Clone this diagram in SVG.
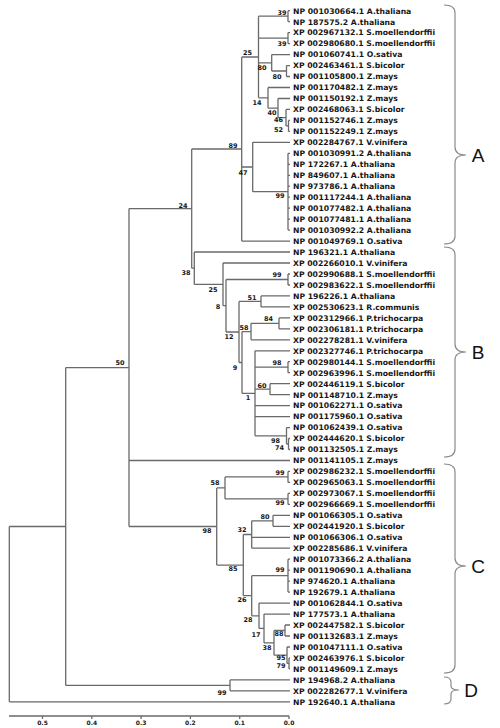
<svg xmlns="http://www.w3.org/2000/svg" width="500" height="728" viewBox="0 0 500 728">
<style>
.br{fill:none;stroke:#6a6a6a;stroke-width:1.3}
.lf{font-family:"DejaVu Sans",sans-serif;font-weight:bold;font-size:7.7px;fill:#161616}
.bs{font-family:"DejaVu Sans",sans-serif;font-weight:bold;font-size:6.5px;fill:#161616;text-anchor:middle}
.ax{font-family:"DejaVu Sans",sans-serif;font-weight:bold;font-size:6px;fill:#161616;text-anchor:middle}
.brace{fill:none;stroke:#8a8a8a;stroke-width:1.2}
.cl{font-family:"Liberation Sans",Arial,sans-serif;font-size:19px;fill:#111;text-anchor:middle}
</style>
<rect width="500" height="728" fill="#fff"/>
<g id="connectors" class="br">
<path d="M9.3,526.5V701.8M9.3,526.5H65.7M9.3,701.8H290"/>
<path d="M65.7,367.6V685.4M65.7,367.6H129M65.7,685.4H230"/>
<path d="M230,679.9V690.8M230,679.9H290M230,690.8H290"/>
<path d="M129,208.6V526.5M129,208.6H191.7M129,460.5H290M129,526.5H216.7"/>
<path d="M191.7,149V268.2M191.7,149H241.7M191.7,268.2H194.3"/>
<path d="M241.7,57V241.1M241.7,57H258.5M241.7,167H252.7M241.7,241.1H290"/>
<path d="M258.5,16.2V97.8M258.5,16.2H288M258.5,38.1H288M258.5,62.8H271.7M258.5,97.8H268"/>
<path d="M288,10.7V21.7M288,10.7H290M288,21.7H290"/>
<path d="M288,32.6V43.6M288,32.6H290M288,43.6H290"/>
<path d="M271.7,54.6V71M271.7,54.6H290M271.7,71H286.5"/>
<path d="M286.5,65.6V76.5M286.5,65.6H290M286.5,76.5H290"/>
<path d="M268,87.5V108.1M268,87.5H290M268,108.1H278"/>
<path d="M278,98.5V117.6M278,98.5H290M278,117.6H286"/>
<path d="M286,109.4V125.9M286,109.4H290M286,125.9H288.5"/>
<path d="M288.5,120.4V131.4M288.5,120.4H290M288.5,131.4H290"/>
<path d="M252.7,142.3V191.7M252.7,142.3H290M252.7,191.7H288"/>
<path d="M288,153.3V230.1M288,153.3H290M288,164.3H290M288,175.3H290M288,186.2H290M288,197.2H290M288,208.2H290M288,219.1H290M288,230.1H290"/>
<path d="M194.3,252V284.4M194.3,252H290M194.3,284.4H223"/>
<path d="M223,263V305.7M223,263H290M223,305.7H226"/>
<path d="M226,279.5V332M226,279.5H288M226,332H239"/>
<path d="M288,274V285M288,274H290M288,285H290"/>
<path d="M239,301.4V362.5M239,301.4H261M239,362.5H242"/>
<path d="M261,295.9V306.9M261,295.9H290M261,306.9H290"/>
<path d="M242,331.6V393.3M242,331.6H251M242,393.3H255"/>
<path d="M251,323.3V339.8M251,323.3H279M251,339.8H290"/>
<path d="M279,317.9V328.8M279,317.9H290M279,328.8H290"/>
<path d="M255,350.8V435.8M255,350.8H290M255,367.2H288M255,389.2H270M255,405.6H290M255,416.6H290M255,435.8H286.5"/>
<path d="M288,361.7V372.7M288,361.7H290M288,372.7H290"/>
<path d="M270,383.7V394.7M270,383.7H290M270,394.7H290"/>
<path d="M286.5,427.6V444M286.5,427.6H290M286.5,444H288.5"/>
<path d="M288.5,438.5V449.5M288.5,438.5H290M288.5,449.5H290"/>
<path d="M216.7,487.9V565.1M216.7,487.9H225M216.7,565.1H243.3"/>
<path d="M225,476.9V498.9M225,476.9H288M225,498.9H288"/>
<path d="M288,471.4V482.4M288,471.4H290M288,482.4H290"/>
<path d="M288,493.4V504.4M288,493.4H290M288,504.4H290"/>
<path d="M243.3,534.5V595.7M243.3,534.5H251.7M243.3,595.7H251.7"/>
<path d="M251.7,520.8V548.2M251.7,520.8H273M251.7,537.3H290M251.7,548.2H290"/>
<path d="M273,515.3V526.3M273,515.3H290M273,526.3H290"/>
<path d="M251.7,575.7V615.8M251.7,575.7H288M251.7,615.8H259"/>
<path d="M288,559.2V592.1M288,559.2H290M288,570.2H290M288,581.1H290M288,592.1H290"/>
<path d="M259,603.1V628.4M259,603.1H290M259,628.4H264"/>
<path d="M264,614.1V642.8M264,614.1H290M264,642.8H274"/>
<path d="M274,630.5V655.2M274,630.5H285M274,655.2H287"/>
<path d="M285,625V636M285,625H290M285,636H290"/>
<path d="M287,647V663.4M287,647H290M287,663.4H289"/>
<path d="M289,657.9V668.9M289,657.9H290M289,668.9H290"/>
</g>
<g id="scale">
<path class="br" d="M9,716H289M42.5,716V719M91.8,716V719M141.1,716V719M190.4,716V719M239.7,716V719M289,716V719"/>
<text class="ax" x="42.5" y="725">0.5</text>
<text class="ax" x="91.8" y="725">0.4</text>
<text class="ax" x="141.1" y="725">0.3</text>
<text class="ax" x="190.4" y="725">0.2</text>
<text class="ax" x="239.7" y="725">0.1</text>
<text class="ax" x="289" y="725">0.0</text>
</g>
<g id="internal-nodes">
<g id="n-a1"><text class="bs" x="282" y="15.3">39</text></g>
<g id="n-a2"><text class="bs" x="282" y="45.6">39</text></g>
<g id="n-a25"><text class="bs" x="247.5" y="55.3">25</text></g>
<g id="n-a80"><text class="bs" x="262" y="70.3">80</text></g>
<g id="n-a80b"><text class="bs" x="277" y="79.3">80</text></g>
<g id="n-a14"><text class="bs" x="257" y="105.3">14</text></g>
<g id="n-a40"><text class="bs" x="272" y="115.3">40</text></g>
<g id="n-a46"><text class="bs" x="278.5" y="122.3">46</text></g>
<g id="n-a52"><text class="bs" x="278.5" y="132.3">52</text></g>
<g id="n-a89"><text class="bs" x="233" y="148.3">89</text></g>
<g id="n-a47"><text class="bs" x="243" y="175.3">47</text></g>
<g id="n-a99"><text class="bs" x="280" y="198.3">99</text></g>
<g id="n-24"><text class="bs" x="183" y="208.3">24</text></g>
<g id="n-b38"><text class="bs" x="186" y="275.3">38</text></g>
<g id="n-b99"><text class="bs" x="277" y="277.3">99</text></g>
<g id="n-b25"><text class="bs" x="213" y="292.3">25</text></g>
<g id="n-b51"><text class="bs" x="252" y="300.3">51</text></g>
<g id="n-b8"><text class="bs" x="218" y="309.3">8</text></g>
<g id="n-b84"><text class="bs" x="268.5" y="321.3">84</text></g>
<g id="n-b58"><text class="bs" x="244" y="330.3">58</text></g>
<g id="n-b12"><text class="bs" x="229" y="339.3">12</text></g>
<g id="n-b98a"><text class="bs" x="277" y="365.3">98</text></g>
<g id="n-b9"><text class="bs" x="235" y="370.3">9</text></g>
<g id="n-b60"><text class="bs" x="262" y="388.3">60</text></g>
<g id="n-b1"><text class="bs" x="248" y="400.3">1</text></g>
<g id="n-b98b"><text class="bs" x="275.5" y="443.3">98</text></g>
<g id="n-b74"><text class="bs" x="279.5" y="450.3">74</text></g>
<g id="n-50"><text class="bs" x="120" y="365.3">50</text></g>
<g id="n-c99a"><text class="bs" x="280" y="475.3">99</text></g>
<g id="n-c58"><text class="bs" x="215" y="485.3">58</text></g>
<g id="n-c99b"><text class="bs" x="280" y="505.3">99</text></g>
<g id="n-c80"><text class="bs" x="265" y="519.3">80</text></g>
<g id="n-c32"><text class="bs" x="242" y="532.3">32</text></g>
<g id="n-c98"><text class="bs" x="207" y="533.3">98</text></g>
<g id="n-c85"><text class="bs" x="233" y="571.3">85</text></g>
<g id="n-c99c"><text class="bs" x="280" y="572.3">99</text></g>
<g id="n-c26"><text class="bs" x="242" y="602.3">26</text></g>
<g id="n-c28"><text class="bs" x="248" y="622.3">28</text></g>
<g id="n-c88"><text class="bs" x="279" y="636.3">88</text></g>
<g id="n-c17"><text class="bs" x="256" y="637.3">17</text></g>
<g id="n-c38"><text class="bs" x="267" y="650.3">38</text></g>
<g id="n-c95"><text class="bs" x="281" y="660.3">95</text></g>
<g id="n-c79"><text class="bs" x="281" y="668.3">79</text></g>
<g id="n-d99"><text class="bs" x="222" y="695.3">99</text></g>
</g>
<g id="leaves">
<g id="leaf-01"><text class="lf" x="293" y="13.5">NP 001030664.1 A.thaliana</text></g>
<g id="leaf-02"><text class="lf" x="293" y="24.5">NP 187575.2 A.thaliana</text></g>
<g id="leaf-03"><text class="lf" x="293" y="35.4">XP 002967132.1 S.moellendorffii</text></g>
<g id="leaf-04"><text class="lf" x="293" y="46.4">XP 002980680.1 S.moellendorffii</text></g>
<g id="leaf-05"><text class="lf" x="293" y="57.4">NP 001060741.1 O.sativa</text></g>
<g id="leaf-06"><text class="lf" x="293" y="68.4">XP 002463461.1 S.bicolor</text></g>
<g id="leaf-07"><text class="lf" x="293" y="79.3">NP 001105800.1 Z.mays</text></g>
<g id="leaf-08"><text class="lf" x="293" y="90.3">NP 001170482.1 Z.mays</text></g>
<g id="leaf-09"><text class="lf" x="293" y="101.3">NP 001150192.1 Z.mays</text></g>
<g id="leaf-10"><text class="lf" x="293" y="112.2">XP 002468063.1 S.bicolor</text></g>
<g id="leaf-11"><text class="lf" x="293" y="123.2">NP 001152746.1 Z.mays</text></g>
<g id="leaf-12"><text class="lf" x="293" y="134.2">NP 001152249.1 Z.mays</text></g>
<g id="leaf-13"><text class="lf" x="293" y="145.1">XP 002284767.1 V.vinifera</text></g>
<g id="leaf-14"><text class="lf" x="293" y="156.1">NP 001030991.2 A.thaliana</text></g>
<g id="leaf-15"><text class="lf" x="293" y="167.1">NP 172267.1 A.thaliana</text></g>
<g id="leaf-16"><text class="lf" x="293" y="178.1">NP 849607.1 A.thaliana</text></g>
<g id="leaf-17"><text class="lf" x="293" y="189.0">NP 973786.1 A.thaliana</text></g>
<g id="leaf-18"><text class="lf" x="293" y="200.0">NP 001117244.1 A.thaliana</text></g>
<g id="leaf-19"><text class="lf" x="293" y="211.0">NP 001077482.1 A.thaliana</text></g>
<g id="leaf-20"><text class="lf" x="293" y="221.9">NP 001077481.1 A.thaliana</text></g>
<g id="leaf-21"><text class="lf" x="293" y="232.9">NP 001030992.2 A.thaliana</text></g>
<g id="leaf-22"><text class="lf" x="293" y="243.9">NP 001049769.1 O.sativa</text></g>
<g id="leaf-23"><text class="lf" x="293" y="254.8">NP 196321.1 A.thaliana</text></g>
<g id="leaf-24"><text class="lf" x="293" y="265.8">XP 002266010.1 V.vinifera</text></g>
<g id="leaf-25"><text class="lf" x="293" y="276.8">XP 002990688.1 S.moellendorffii</text></g>
<g id="leaf-26"><text class="lf" x="293" y="287.8">XP 002983622.1 S.moellendorffii</text></g>
<g id="leaf-27"><text class="lf" x="293" y="298.7">NP 196226.1 A.thaliana</text></g>
<g id="leaf-28"><text class="lf" x="293" y="309.7">XP 002530623.1 R.communis</text></g>
<g id="leaf-29"><text class="lf" x="293" y="320.7">XP 002312966.1 P.trichocarpa</text></g>
<g id="leaf-30"><text class="lf" x="293" y="331.6">XP 002306181.1 P.trichocarpa</text></g>
<g id="leaf-31"><text class="lf" x="293" y="342.6">XP 002278281.1 V.vinifera</text></g>
<g id="leaf-32"><text class="lf" x="293" y="353.6">XP 002327746.1 P.trichocarpa</text></g>
<g id="leaf-33"><text class="lf" x="293" y="364.5">XP 002980144.1 S.moellendorffii</text></g>
<g id="leaf-34"><text class="lf" x="293" y="375.5">XP 002963996.1 S.moellendorffii</text></g>
<g id="leaf-35"><text class="lf" x="293" y="386.5">XP 002446119.1 S.bicolor</text></g>
<g id="leaf-36"><text class="lf" x="293" y="397.5">NP 001148710.1 Z.mays</text></g>
<g id="leaf-37"><text class="lf" x="293" y="408.4">NP 001062271.1 O.sativa</text></g>
<g id="leaf-38"><text class="lf" x="293" y="419.4">NP 001175960.1 O.sativa</text></g>
<g id="leaf-39"><text class="lf" x="293" y="430.4">NP 001062439.1 O.sativa</text></g>
<g id="leaf-40"><text class="lf" x="293" y="441.3">XP 002444620.1 S.bicolor</text></g>
<g id="leaf-41"><text class="lf" x="293" y="452.3">NP 001132505.1 Z.mays</text></g>
<g id="leaf-42"><text class="lf" x="293" y="463.3">NP 001141105.1 Z.mays</text></g>
<g id="leaf-43"><text class="lf" x="293" y="474.2">XP 002986232.1 S.moellendorffii</text></g>
<g id="leaf-44"><text class="lf" x="293" y="485.2">XP 002965063.1 S.moellendorffii</text></g>
<g id="leaf-45"><text class="lf" x="293" y="496.2">XP 002973067.1 S.moellendorffii</text></g>
<g id="leaf-46"><text class="lf" x="293" y="507.2">XP 002966669.1 S.moellendorffii</text></g>
<g id="leaf-47"><text class="lf" x="293" y="518.1">NP 001066305.1 O.sativa</text></g>
<g id="leaf-48"><text class="lf" x="293" y="529.1">XP 002441920.1 S.bicolor</text></g>
<g id="leaf-49"><text class="lf" x="293" y="540.1">NP 001066306.1 O.sativa</text></g>
<g id="leaf-50"><text class="lf" x="293" y="551.0">XP 002285686.1 V.vinifera</text></g>
<g id="leaf-51"><text class="lf" x="293" y="562.0">NP 001073366.2 A.thaliana</text></g>
<g id="leaf-52"><text class="lf" x="293" y="573.0">NP 001190690.1 A.thaliana</text></g>
<g id="leaf-53"><text class="lf" x="293" y="583.9">NP 974620.1 A.thaliana</text></g>
<g id="leaf-54"><text class="lf" x="293" y="594.9">NP 192679.1 A.thaliana</text></g>
<g id="leaf-55"><text class="lf" x="293" y="605.9">NP 001062844.1 O.sativa</text></g>
<g id="leaf-56"><text class="lf" x="293" y="616.9">NP 177573.1 A.thaliana</text></g>
<g id="leaf-57"><text class="lf" x="293" y="627.8">XP 002447582.1 S.bicolor</text></g>
<g id="leaf-58"><text class="lf" x="293" y="638.8">NP 001132683.1 Z.mays</text></g>
<g id="leaf-59"><text class="lf" x="293" y="649.8">NP 001047111.1 O.sativa</text></g>
<g id="leaf-60"><text class="lf" x="293" y="660.7">XP 002463976.1 S.bicolor</text></g>
<g id="leaf-61"><text class="lf" x="293" y="671.7">NP 001149609.1 Z.mays</text></g>
<g id="leaf-62"><text class="lf" x="293" y="682.7">NP 194968.2 A.thaliana</text></g>
<g id="leaf-63"><text class="lf" x="293" y="693.6">XP 002282677.1 V.vinifera</text></g>
<g id="leaf-64"><text class="lf" x="293" y="704.6">NP 192640.1 A.thaliana</text></g>
</g>
<g id="clade-A"><path class="brace" d="M444,5Q455,5 455,13L455,147Q455,155 466,155Q455,155 455,163L455,236Q455,244 444,244"/><text class="cl" x="478" y="162">A</text></g>
<g id="clade-B"><path class="brace" d="M444,247Q455,247 455,255L455,344Q455,352 466,352Q455,352 455,360L455,449Q455,457 444,457"/><text class="cl" x="478" y="359">B</text></g>
<g id="clade-C"><path class="brace" d="M444,464Q455,464 455,472L455,558Q455,566 466,566Q455,566 455,574L455,665Q455,673 444,673"/><text class="cl" x="478" y="573">C</text></g>
<g id="clade-D"><path class="brace" d="M444,677Q451,677 451,682L451,686Q451,690 459,690Q451,690 451,694L451,699Q451,704 444,704"/><text class="cl" x="471" y="697">D</text></g>
</svg>
